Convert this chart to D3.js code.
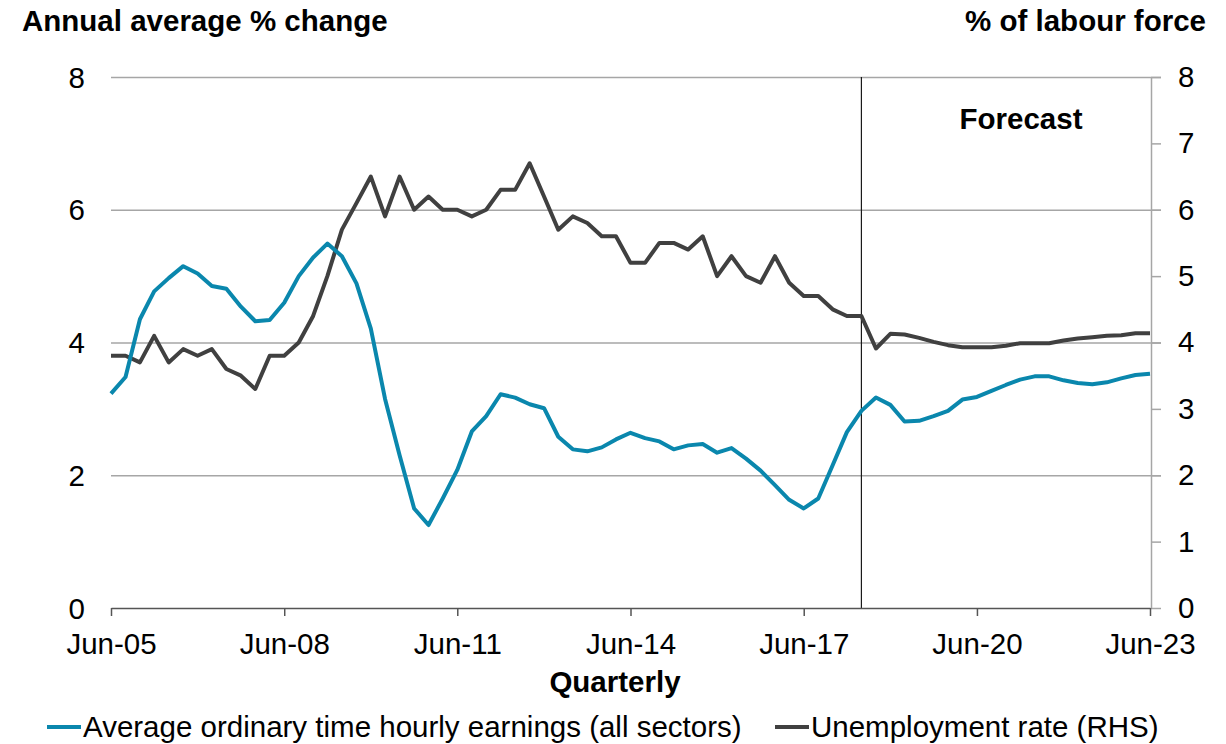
<!DOCTYPE html>
<html>
<head>
<meta charset="utf-8">
<script src="https://cdnjs.cloudflare.com/ajax/libs/d3/7.8.5/d3.min.js"></script>
<style>
    body { margin: 0; background: #fff; }
    svg { display: block; font-family: "Liberation Sans", Arial, sans-serif; }
    .grid line { stroke: #a6a6a6; stroke-width: 1.5; }
    .grid path { display: none; }
</style>
</head>
<body>
<script>
// quarterly, Jun-05 to Jun-23
var firstQuarter = "Jun-05";
var lastQuarter = "Jun-23";
var forecastStart = "Jun-18";
var xTickLabels = ["Jun-05", "Jun-08", "Jun-11", "Jun-14", "Jun-17", "Jun-20", "Jun-23"];
var yTicks = [0, 2, 4, 6, 8];
var yRightTicks = [0, 1, 2, 3, 4, 5, 6, 7, 8];

// Average ordinary time hourly earnings (all sectors), annual average % change
var wages = [3.23, 3.48, 4.35, 4.77, 4.97, 5.15, 5.04, 4.85, 4.81, 4.54,
    4.32, 4.34, 4.60, 5.00, 5.28, 5.49, 5.30, 4.89, 4.21, 3.15,
    2.30, 1.50, 1.25, 1.65, 2.08, 2.66, 2.89, 3.22, 3.17, 3.07,
    3.01, 2.58, 2.39, 2.36, 2.42, 2.54, 2.64, 2.56, 2.51, 2.39,
    2.45, 2.47, 2.34, 2.41, 2.25, 2.07, 1.85, 1.63, 1.50, 1.65,
    2.15, 2.65, 2.97, 3.17, 3.06, 2.81, 2.82, 2.89, 2.97, 3.14,
    3.18, 3.27, 3.36, 3.44, 3.49, 3.49, 3.43, 3.39, 3.37, 3.40,
    3.46, 3.51, 3.53];

// Unemployment rate, % of labour force (RHS)
var unemployment = [3.8, 3.8, 3.7, 4.1, 3.7, 3.9, 3.8, 3.9, 3.6, 3.5,
    3.3, 3.8, 3.8, 4.0, 4.4, 5.0, 5.7, 6.1, 6.5, 5.9,
    6.5, 6.0, 6.2, 6.0, 6.0, 5.9, 6.0, 6.3, 6.3, 6.7,
    6.2, 5.7, 5.9, 5.8, 5.6, 5.6, 5.2, 5.2, 5.5, 5.5,
    5.4, 5.6, 5.0, 5.3, 5.0, 4.9, 5.3, 4.9, 4.7, 4.7,
    4.5, 4.4, 4.4, 3.91, 4.13, 4.12, 4.07, 4.01, 3.96, 3.93,
    3.93, 3.93, 3.95, 3.99, 3.99, 3.99, 4.03, 4.06, 4.08, 4.10,
    4.11, 4.14, 4.14];

var width = 1226;
var height = 744;
var margin = { top: 77, bottom: 136, left: 111, right: 76 };
var fontSize = "29.5px";
var parseQ = d3.timeParse("%b-%y");
var fmtQ = d3.timeFormat("%b-%y");

// one date per quarter, Jun-05 .. Jun-23
var quarters = d3.timeMonth.range(parseQ(firstQuarter), d3.timeMonth.offset(parseQ(lastQuarter), 1), 3);

var svg = d3.select("body")
    .append("svg")
    .attr("width", width)
    .attr("height", height);

var xScale = d3.scaleTime()
    .domain([parseQ(firstQuarter), parseQ(lastQuarter)])
    .range([margin.left, width - margin.right]);

var yScale = d3.scaleLinear()
    .domain([0, 8])
    .range([height - margin.bottom, margin.top]);

var yRight = d3.scaleLinear()
    .domain([0, 8])
    .range([height - margin.bottom, margin.top]);

var x0 = margin.left;
var x1 = width - margin.right;
var yBottom = height - margin.bottom;

// gridlines
svg.append("g")
    .attr("class", "grid")
    .attr("transform", "translate(" + x0 + ",0)")
    .call(d3.axisLeft(yScale)
        .tickValues(yTicks.filter(function (d) { return d > 0; }))
        .tickSize(-(x1 - x0 + 11))
        .tickFormat(""));

// left labels
svg.append("g")
    .selectAll("text")
    .data(yTicks)
    .enter()
    .append("text")
    .attr("x", 85)
    .attr("y", function (d) { return yScale(d); })
    .attr("dy", "0.36em")
    .attr("text-anchor", "end")
    .style("font-size", fontSize)
    .text(function (d) { return d; });

// right axis
var rAxis = svg.append("g")
    .attr("transform", "translate(" + (x1 + 1) + ",0)")
    .call(d3.axisRight(yRight).tickValues(yRightTicks).tickSize(10).tickPadding(17).tickSizeOuter(0));
rAxis.select(".domain").attr("stroke", "#a6a6a6").attr("stroke-width", 1.5);
rAxis.selectAll(".tick line").attr("stroke", "#a6a6a6").attr("stroke-width", 1.5);
rAxis.selectAll("text")
    .attr("fill", "#000")
    .style("font-size", fontSize)
    .style("font-family", "Liberation Sans, Arial, sans-serif");

// forecast divider
svg.append("line")
    .attr("x1", xScale(parseQ(forecastStart)))
    .attr("x2", xScale(parseQ(forecastStart)))
    .attr("y1", margin.top)
    .attr("y2", yBottom)
    .attr("stroke", "#1a1a1a")
    .attr("stroke-width", 1.2);

svg.append("text")
    .attr("x", 1021)
    .attr("y", 129)
    .attr("text-anchor", "middle")
    .style("font-size", fontSize)
    .style("font-weight", "bold")
    .text("Forecast");

// x axis
var xAxis = svg.append("g")
    .attr("transform", "translate(0," + yBottom + ")")
    .call(d3.axisBottom(xScale)
        .tickValues(xTickLabels.map(parseQ))
        .tickFormat(fmtQ)
        .tickSize(8)
        .tickPadding(17)
        .tickSizeOuter(0));
xAxis.select(".domain").attr("stroke", "#555").attr("stroke-width", 1.5);
xAxis.selectAll(".tick line").attr("stroke", "#555").attr("stroke-width", 1.5);
xAxis.selectAll("text")
    .attr("fill", "#000")
    .style("font-size", fontSize)
    .style("font-family", "Liberation Sans, Arial, sans-serif");

// lines
var wageLine = d3.line()
    .x(function (d, i) { return xScale(quarters[i]); })
    .y(function (d) { return yScale(d); });

var unempLine = d3.line()
    .x(function (d, i) { return xScale(quarters[i]); })
    .y(function (d) { return yRight(d); });

svg.append("path")
    .datum(unemployment)
    .attr("fill", "none")
    .attr("stroke", "#404040")
    .attr("stroke-width", 4)
    .attr("stroke-linejoin", "round")
    .attr("d", unempLine);

svg.append("path")
    .datum(wages)
    .attr("fill", "none")
    .attr("stroke", "#0a87ad")
    .attr("stroke-width", 4)
    .attr("stroke-linejoin", "round")
    .attr("d", wageLine);

// titles
svg.append("text")
    .attr("x", 22)
    .attr("y", 31)
    .style("font-size", fontSize)
    .style("font-weight", "bold")
    .text("Annual average % change");

svg.append("text")
    .attr("x", 1206)
    .attr("y", 31)
    .attr("text-anchor", "end")
    .style("font-size", fontSize)
    .style("font-weight", "bold")
    .text("% of labour force");

svg.append("text")
    .attr("x", 615)
    .attr("y", 692)
    .attr("text-anchor", "middle")
    .style("font-size", fontSize)
    .style("font-weight", "bold")
    .text("Quarterly");

// legend
var legend = [
    { name: "Average ordinary time hourly earnings (all sectors)", color: "#0a87ad", x: 47 },
    { name: "Unemployment rate (RHS)", color: "#404040", x: 775 }
];
var lg = svg.append("g").selectAll("g").data(legend).enter().append("g");
lg.append("line")
    .attr("x1", function (d) { return d.x; })
    .attr("x2", function (d) { return d.x + 34; })
    .attr("y1", 727)
    .attr("y2", 727)
    .attr("stroke", function (d) { return d.color; })
    .attr("stroke-width", 4);
lg.append("text")
    .attr("x", function (d) { return d.x + 36; })
    .attr("y", 737)
    .style("font-size", fontSize)
    .text(function (d) { return d.name; });
</script>
</body>
</html>
